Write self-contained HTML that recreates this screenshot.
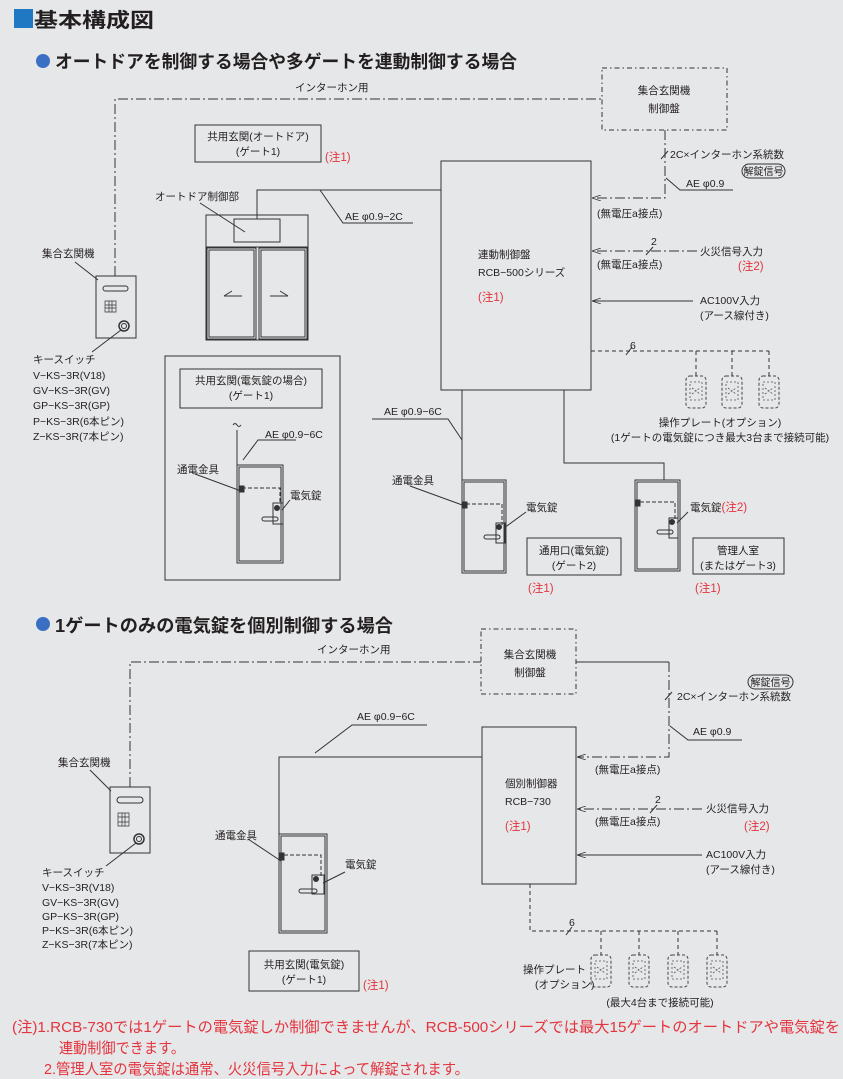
<!DOCTYPE html>
<html><head><meta charset="utf-8"><style>
html,body{margin:0;padding:0;background:#e6e7e9;}
svg{display:block;}
text{font-family:"Liberation Sans","Noto Sans CJK JP",sans-serif;fill:#231f20;font-size:10.5px;}
.r{fill:#e4343e;}
.h{font-weight:bold;}
</style></head><body>
<svg width="843" height="1079" viewBox="0 0 843 1079" xmlns="http://www.w3.org/2000/svg">
<defs>
<marker id="ar" markerWidth="9" markerHeight="6" refX="9" refY="3" orient="auto" markerUnits="userSpaceOnUse">
<path d="M0,0 L9,3 L0,6" fill="none" stroke="#333" stroke-width="0.8"/>
</marker>
<g id="plate">
<rect x="-10" y="0" width="20" height="32" rx="4" fill="none" stroke="#444" stroke-width="1" stroke-dasharray="3,2"/>
<rect x="-6" y="6" width="12" height="18" fill="none" stroke="#555" stroke-width="0.8" stroke-dasharray="2,2"/>
<path d="M-4,12 L4,18 M-4,18 L4,12" stroke="#555" stroke-width="0.8" stroke-dasharray="2,1.5"/>
</g>
</defs>
<g fill="none" stroke="#333" stroke-width="1">

<!-- Section 1 -->
<path d="M115,276 V99 H602" stroke-dasharray="10,3,2,3"/>
<rect x="602" y="68" width="125" height="62" stroke-dasharray="5,3,1.5,3"/>
<path d="M665,130 V198 H592" stroke-dasharray="10,3,2,3" marker-end="url(#ar)"/>
<path d="M661,159 L668,151"/>
<path d="M666,178 L680,190 H733"/>
<rect x="742" y="164" width="43" height="14" rx="7"/>
<rect x="441" y="161" width="150" height="229"/>
<path d="M697,251 H592" stroke-dasharray="10,3,2,3" marker-end="url(#ar)"/>
<path d="M646,255 L653,247"/>
<path d="M693,301 H592" marker-end="url(#ar)"/>
<path d="M591,351 H769 M696,351 V376 M732,351 V376 M769,351 V376" stroke-dasharray="4,3"/>
<path d="M626,355 L632,347"/>
<rect x="195" y="125" width="126" height="37"/>
<!-- auto door -->
<rect x="206" y="215" width="102" height="125"/>
<line x1="206" y1="247" x2="308" y2="247"/>
<rect x="234" y="219" width="46" height="23"/>
<rect x="207" y="248" width="49" height="91"/><rect x="209" y="250" width="45" height="87"/>
<rect x="259" y="248" width="48" height="91"/><rect x="261" y="250" width="44" height="87"/>
<path d="M224,296 H242 M224,296 L232,291 M270,296 H288 M288,296 L280,291"/>
<path d="M257,219 V190 H441"/>
<path d="M320,190 L343,223 H413"/>
<path d="M200,203 L245,232"/>
<!-- intercom device 1 -->
<rect x="96" y="276" width="40" height="62"/>
<rect x="103" y="286" width="25" height="5" rx="2.5"/>
<path d="M105,301 h11 v11 h-11 z M105,305 h11 M105,308 h11 M109,301 v11 M112,301 v11" stroke-width="0.7"/>
<circle cx="124" cy="326" r="5" stroke-width="1.5"/><circle cx="124" cy="326" r="2.5"/>
<path d="M75,262 L98,280 M121,330 L92,352"/>
<!-- enclosure -->
<rect x="165" y="356" width="175" height="224"/>
<rect x="180" y="369" width="142" height="39"/>
<path d="M233,425 q2,-3 4,0 t4,0"/>
<path d="M237,430 V465"/>
<path d="M243,460 L258,440 H296"/>
<rect x="237" y="465" width="46" height="98"/><rect x="239" y="467" width="42" height="94"/>
<path d="M242,488 H280 V503" stroke-dasharray="4,2"/>
<rect x="240" y="486" width="4" height="6" fill="#333"/>
<rect x="273" y="503" width="10" height="21"/><circle cx="277" cy="508" r="2.5" fill="#333"/>
<rect x="262" y="517" width="16" height="4" rx="2"/>
<path d="M195,474 L241,491 M290,500 L282,510"/>
<!-- gates 2 & 3 -->
<path d="M462,390 V480"/>
<path d="M564,390 V463 H664 V480"/>
<path d="M372,419 H448 L462,440"/>
<rect x="462" y="480" width="44" height="93"/><rect x="464" y="482" width="40" height="89"/>
<path d="M466,504 H502 V525" stroke-dasharray="4,2"/>
<rect x="463" y="502" width="4" height="6" fill="#333"/>
<rect x="496" y="523" width="9" height="20"/><circle cx="499" cy="527" r="2.5" fill="#333"/>
<rect x="484" y="535" width="16" height="4" rx="2"/>
<path d="M410,486 L465,506 M526,512 L504,528"/>
<rect x="527" y="538" width="94" height="37"/>
<rect x="635" y="480" width="45" height="91"/><rect x="637" y="482" width="41" height="87"/>
<path d="M640,502 H675 V520" stroke-dasharray="4,2"/>
<rect x="636" y="500" width="4" height="6" fill="#333"/>
<rect x="669" y="518" width="9" height="20"/><circle cx="672" cy="522" r="2.5" fill="#333"/>
<rect x="657" y="530" width="16" height="4" rx="2"/>
<path d="M688,512 L677,523"/>
<rect x="693" y="538" width="91" height="36"/>

<!-- Section 2 -->
<path d="M130,787 V662 H481" stroke-dasharray="10,3,2,3"/>
<rect x="481" y="629" width="95" height="65" stroke-dasharray="5,3,1.5,3"/>
<path d="M576,662 H669"/>
<path d="M669,662 V757 H577" stroke-dasharray="10,3,2,3" marker-end="url(#ar)"/>
<path d="M665,700 L672,692"/>
<path d="M670,726 L688,740 H742"/>
<rect x="748" y="675" width="45" height="14" rx="7"/>
<rect x="482" y="727" width="94" height="157"/>
<path d="M702,809 H577" stroke-dasharray="10,3,2,3" marker-end="url(#ar)"/>
<path d="M650,813 L657,805"/>
<path d="M702,855 H577" marker-end="url(#ar)"/>
<path d="M530,884 V931 H717 M601,931 V955 M639,931 V955 M678,931 V955 M717,931 V955" stroke-dasharray="4,3"/>
<path d="M566,935 L572,927"/>
<path d="M482,757 H279 V834"/>
<path d="M315,753 L352,725 H427"/>
<rect x="279" y="834" width="48" height="99"/><rect x="281" y="836" width="44" height="95"/>
<path d="M284,855 H321 V876" stroke-dasharray="4,2"/>
<rect x="280" y="853" width="4" height="7" fill="#333"/>
<rect x="312" y="875" width="12" height="19"/><circle cx="316" cy="879" r="2.5" fill="#333"/>
<rect x="299" y="889" width="18" height="4" rx="2"/>
<path d="M248,839 L281,861 M345,872 L323,883"/>
<rect x="249" y="951" width="110" height="40"/>
<!-- device 2 -->
<rect x="110" y="787" width="40" height="66"/>
<rect x="117" y="797" width="26" height="6" rx="3"/>
<path d="M118,813 h11 v13 h-11 z M118,817 h11 M118,822 h11 M122,813 v13 M125,813 v13" stroke-width="0.7"/>
<circle cx="139" cy="839" r="5" stroke-width="1.5"/><circle cx="139" cy="839" r="2.5"/>
<path d="M90,770 L111,791 M136,843 L106,866"/>
</g>
<use href="#plate" x="696" y="376"/><use href="#plate" x="732" y="376"/><use href="#plate" x="769" y="376"/>
<use href="#plate" x="601" y="955"/><use href="#plate" x="639" y="955"/><use href="#plate" x="678" y="955"/><use href="#plate" x="717" y="955"/>

<!-- titles -->
<rect x="14" y="9" width="19" height="19" fill="#1f78c1"/>
<text x="34" y="27" class="h" style="font-size:20px" textLength="120" lengthAdjust="spacingAndGlyphs">基本構成図</text>
<circle cx="43" cy="61" r="7" fill="#3a6fc4"/>
<text x="55" y="68" class="h" style="font-size:18px" textLength="462" lengthAdjust="spacingAndGlyphs">オートドアを制御する場合や多ゲートを連動制御する場合</text>
<circle cx="43" cy="624" r="7" fill="#3a6fc4"/>
<text x="55" y="632" class="h" style="font-size:18px" textLength="338" lengthAdjust="spacingAndGlyphs">1ゲートのみの電気錠を個別制御する場合</text>

<!-- section 1 labels -->
<text x="295" y="91">インターホン用</text>
<text x="664" y="94" text-anchor="middle">集合玄関機</text>
<text x="664" y="112" text-anchor="middle">制御盤</text>
<text x="670" y="158">2C×インターホン系統数</text>
<text x="763.5" y="175" text-anchor="middle" style="font-size:10px">解錠信号</text>
<text x="686" y="187">AE  φ0.9</text>
<text x="597" y="217">(無電圧a接点)</text>
<text x="478" y="258">連動制御盤</text>
<text x="478" y="276">RCB−500シリーズ</text>
<text x="478" y="301" class="r" style="font-size:11.5px">(注1)</text>
<text x="651" y="245">2</text>
<text x="700" y="255">火災信号入力</text>
<text x="738" y="270" class="r" style="font-size:11.5px">(注2)</text>
<text x="597" y="268">(無電圧a接点)</text>
<text x="700" y="304">AC100V入力</text>
<text x="700" y="319">(アース線付き)</text>
<text x="630" y="349">6</text>
<text x="720" y="426" text-anchor="middle">操作プレート(オプション)</text>
<text x="720" y="441" text-anchor="middle">(1ゲートの電気錠につき最大3台まで接続可能)</text>
<text x="258" y="140" text-anchor="middle">共用玄関(オートドア)</text>
<text x="258" y="155" text-anchor="middle">(ゲート1)</text>
<text x="325" y="161" class="r" style="font-size:11.5px">(注1)</text>
<text x="155" y="200">オートドア制御部</text>
<text x="345" y="220">AE  φ0.9−2C</text>
<text x="42" y="257">集合玄関機</text>
<text x="33" y="363">キースイッチ</text>
<text x="33" y="379">V−KS−3R(V18)</text>
<text x="33" y="394">GV−KS−3R(GV)</text>
<text x="33" y="409">GP−KS−3R(GP)</text>
<text x="33" y="425">P−KS−3R(6本ピン)</text>
<text x="33" y="440">Z−KS−3R(7本ピン)</text>
<text x="251" y="384" text-anchor="middle">共用玄関(電気錠の場合)</text>
<text x="251" y="399" text-anchor="middle">(ゲート1)</text>
<text x="265" y="438">AE  φ0.9−6C</text>
<text x="177" y="473">通電金具</text>
<text x="290" y="499">電気錠</text>
<text x="384" y="415">AE  φ0.9−6C</text>
<text x="392" y="484">通電金具</text>
<text x="526" y="511">電気錠</text>
<text x="574" y="554" text-anchor="middle">通用口(電気錠)</text>
<text x="574" y="569" text-anchor="middle">(ゲート2)</text>
<text x="528" y="592" class="r" style="font-size:11.5px">(注1)</text>
<text x="690" y="511">電気錠<tspan class="r" style="font-size:11.5px">(注2)</tspan></text>
<text x="738" y="554" text-anchor="middle">管理人室</text>
<text x="738" y="569" text-anchor="middle">(またはゲート3)</text>
<text x="695" y="592" class="r" style="font-size:11.5px">(注1)</text>

<!-- section 2 labels -->
<text x="317" y="653">インターホン用</text>
<text x="530" y="658" text-anchor="middle">集合玄関機</text>
<text x="530" y="676" text-anchor="middle">制御盤</text>
<text x="770.5" y="686" text-anchor="middle" style="font-size:10px">解錠信号</text>
<text x="677" y="700">2C×インターホン系統数</text>
<text x="693" y="735">AE  φ0.9</text>
<text x="357" y="720">AE  φ0.9−6C</text>
<text x="595" y="773">(無電圧a接点)</text>
<text x="505" y="787">個別制御器</text>
<text x="505" y="805">RCB−730</text>
<text x="505" y="830" class="r" style="font-size:11.5px">(注1)</text>
<text x="655" y="803">2</text>
<text x="706" y="812">火災信号入力</text>
<text x="744" y="830" class="r" style="font-size:11.5px">(注2)</text>
<text x="595" y="825">(無電圧a接点)</text>
<text x="706" y="858">AC100V入力</text>
<text x="706" y="873">(アース線付き)</text>
<text x="569" y="926">6</text>
<text x="523" y="973">操作プレート</text>
<text x="535" y="988">(オプション)</text>
<text x="660" y="1006" text-anchor="middle">(最大4台まで接続可能)</text>
<text x="58" y="766">集合玄関機</text>
<text x="42" y="876">キースイッチ</text>
<text x="42" y="891">V−KS−3R(V18)</text>
<text x="42" y="906">GV−KS−3R(GV)</text>
<text x="42" y="920">GP−KS−3R(GP)</text>
<text x="42" y="934">P−KS−3R(6本ピン)</text>
<text x="42" y="948">Z−KS−3R(7本ピン)</text>
<text x="215" y="839">通電金具</text>
<text x="345" y="868">電気錠</text>
<text x="304" y="968" text-anchor="middle">共用玄関(電気錠)</text>
<text x="304" y="983" text-anchor="middle">(ゲート1)</text>
<text x="363" y="989" class="r" style="font-size:11.5px">(注1)</text>

<!-- footnotes -->
<text x="12" y="1032" class="r" style="font-size:15px" textLength="828" lengthAdjust="spacingAndGlyphs">(注)1.RCB-730では1ゲートの電気錠しか制御できませんが、RCB-500シリーズでは最大15ゲートのオートドアや電気錠を</text>
<text x="59" y="1053" class="r" style="font-size:15px" textLength="126" lengthAdjust="spacingAndGlyphs">連動制御できます。</text>
<text x="44" y="1074" class="r" style="font-size:15px" textLength="425" lengthAdjust="spacingAndGlyphs">2.管理人室の電気錠は通常、火災信号入力によって解錠されます。</text>
</svg>
</body></html>
